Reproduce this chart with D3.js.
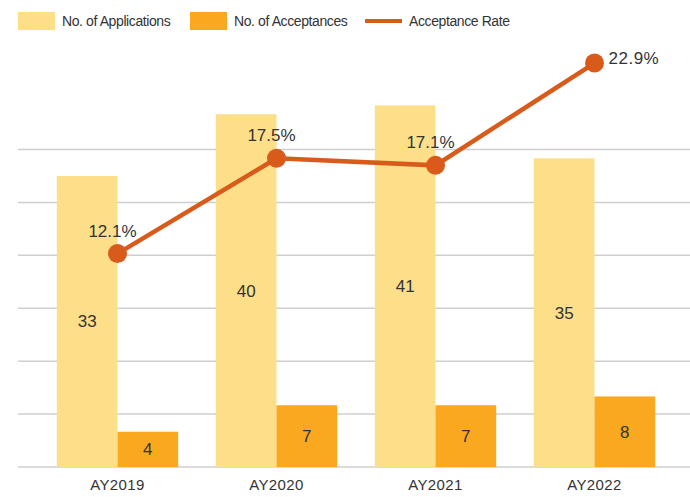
<!DOCTYPE html>
<html>
<head>
<meta charset="utf-8">
<script src="https://cdn.jsdelivr.net/npm/d3@7"></script>
<style>
  body { margin: 0; background: #fff; }
  text { font-family: "Liberation Sans", Arial, sans-serif; fill: #333; }
</style>
</head>
<body>
<div id="chart"></div>
<script>
// data
var years = ["AY2019", "AY2020", "AY2021", "AY2022"];
var applications = [33, 40, 41, 35];
var acceptances = [4, 7, 7, 8];
var rates = [12.1, 17.5, 17.1, 22.9];
var gridTicks = [0, 6, 12, 18, 24, 30, 36];

var width = 690, height = 497;

var colApp = "#fddf8a", colAcc = "#f9a81f", colLine = "#d95b1b";

var svg = d3.select("#chart").append("svg")
  .attr("width", width)
  .attr("height", height);

// scales
var x = d3.scaleBand().domain(years).range([38, 674]);
var x1 = d3.scaleBand().domain(["app", "acc"]).range([0, x.bandwidth()])
  .paddingInner(0).paddingOuter(0.31);
var y = d3.scaleLinear().domain([0, 50]).range([467, 26]);
var y2 = d3.scaleLinear().domain([0, 25]).range([467, 26]);

// gridlines
svg.append("g").selectAll("line")
  .data(gridTicks)
  .enter().append("line")
  .attr("x1", 18).attr("x2", width)
  .attr("y1", function(d){ return y(d); })
  .attr("y2", function(d){ return y(d); })
  .attr("stroke", "#cfcfcf")
  .attr("stroke-width", 1.5);

// bars
var groups = svg.append("g").selectAll("g")
  .data(years)
  .enter().append("g")
  .attr("transform", function(d){ return "translate(" + x(d) + ",0)"; });

groups.append("rect")
  .attr("x", x1("app"))
  .attr("width", x1.bandwidth())
  .attr("y", function(d, i){ return y(applications[i]); })
  .attr("height", function(d, i){ return y(0) - y(applications[i]); })
  .attr("fill", colApp);

groups.append("rect")
  .attr("x", x1("acc"))
  .attr("width", x1.bandwidth())
  .attr("y", function(d, i){ return y(acceptances[i]); })
  .attr("height", function(d, i){ return y(0) - y(acceptances[i]); })
  .attr("fill", colAcc);

// bar labels, centred in bar
groups.append("text")
  .attr("x", x1("app") + x1.bandwidth() / 2)
  .attr("y", function(d, i){ return (y(applications[i]) + y(0)) / 2; })
  .attr("dy", "0.35em")
  .attr("text-anchor", "middle")
  .style("font-size", "17px")
  .text(function(d, i){ return applications[i]; });

groups.append("text")
  .attr("x", x1("acc") + x1.bandwidth() / 2)
  .attr("y", function(d, i){ return (y(acceptances[i]) + y(0)) / 2; })
  .attr("dy", "0.35em")
  .attr("text-anchor", "middle")
  .style("font-size", "17px")
  .text(function(d, i){ return acceptances[i]; });

// category labels
svg.append("g").selectAll("text")
  .data(years)
  .enter().append("text")
  .attr("x", function(d){ return x(d) + x.bandwidth() / 2; })
  .attr("y", 490)
  .attr("text-anchor", "middle")
  .style("font-size", "15px")
  .style("letter-spacing", "0.4px")
  .text(function(d){ return d; });

// acceptance rate line
var cx = function(i){ return x(years[i]) + x.bandwidth() / 2; };
var line = d3.line()
  .x(function(d, i){ return cx(i); })
  .y(function(d){ return y2(d); });

svg.append("path")
  .datum(rates)
  .attr("d", line)
  .attr("fill", "none")
  .attr("stroke", colLine)
  .attr("stroke-width", 4.5);

svg.append("g").selectAll("circle")
  .data(rates)
  .enter().append("circle")
  .attr("cx", function(d, i){ return cx(i); })
  .attr("cy", function(d){ return y2(d); })
  .attr("r", 9.5)
  .attr("fill", colLine);

var last = rates.length - 1;
svg.append("g").selectAll("text")
  .data(rates)
  .enter().append("text")
  .attr("x", function(d, i){ return i == last ? cx(i) + 14 : cx(i) - 5; })
  .attr("y", function(d, i){ return i == last ? y2(d) + 1 : y2(d) - 17; })
  .attr("text-anchor", function(d, i){ return i == last ? "start" : "middle"; })
  .style("font-size", "17px")
  .style("letter-spacing", function(d, i){ return i == last ? "0.5px" : "0px"; })
  .text(function(d){ return d.toFixed(1) + "%"; });

// legend
var legend = svg.append("g").style("font-size", "14px").style("letter-spacing", "-0.4px");
var items = [
  { label: "No. of Applications", color: colApp, type: "rect", x: 18 },
  { label: "No. of Acceptances", color: colAcc, type: "rect", x: 190 },
  { label: "Acceptance Rate", color: colLine, type: "line", x: 365 }
];
items.forEach(function(it){
  if (it.type == "rect") {
    legend.append("rect")
      .attr("x", it.x).attr("y", 12)
      .attr("width", 37).attr("height", 18)
      .attr("fill", it.color);
  } else {
    legend.append("rect")
      .attr("x", it.x).attr("y", 19)
      .attr("width", 37).attr("height", 4)
      .attr("fill", it.color);
  }
  legend.append("text")
    .attr("x", it.x + 44)
    .attr("y", 26)
    .text(it.label);
});
</script>
</body>
</html>
